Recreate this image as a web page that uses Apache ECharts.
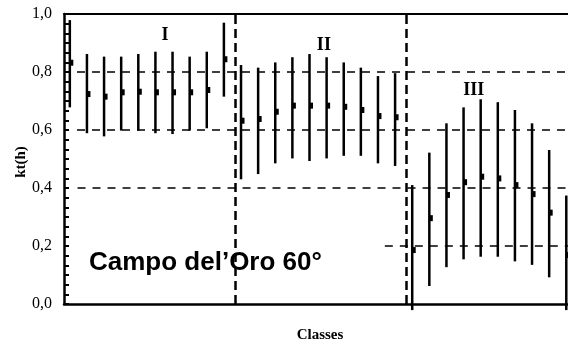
<!DOCTYPE html>
<html>
<head>
<meta charset="utf-8">
<script src="https://cdn.jsdelivr.net/npm/echarts@6/dist/echarts.min.js"></script>
<style>html,body{margin:0;padding:0;background:#fff}#c{width:568px;height:349px}</style>
</head>
<body>
<div id="c"></div>
<script>
// Class index (30 classes, 3 groups of 10)
const classIndex = [1,2,3,4,5,6,7,8,9,10,11,12,13,14,15,16,17,18,19,20,21,22,23,24,25,26,27,28,29,30];
// kt(h) mean, lower and upper values
const meanVals = [0.832,0.724,0.715,0.730,0.732,0.730,0.730,0.730,0.738,0.844,
                  0.632,0.638,0.663,0.684,0.684,0.684,0.680,0.669,0.648,0.644,
                  0.186,0.296,0.376,0.420,0.439,0.433,0.410,0.379,0.315,0.169];
const lowVals  = [0.678,0.589,0.578,0.598,0.598,0.589,0.586,0.598,0.606,0.715,
                  0.430,0.448,0.485,0.502,0.493,0.502,0.511,0.511,0.485,0.476,
                  -0.021,0.062,0.127,0.154,0.163,0.163,0.147,0.135,0.092,-0.021];
const highVals = [0.979,0.862,0.853,0.853,0.862,0.870,0.870,0.853,0.870,0.970,
                  0.824,0.815,0.833,0.851,0.862,0.851,0.833,0.815,0.786,0.796,
                  0.410,0.522,0.623,0.678,0.706,0.696,0.669,0.623,0.531,0.374];
// y-axis ticks
const yTicks = [0, 0.2, 0.4, 0.6, 0.8, 1.0];
// group boundaries and group labels
const groupBounds = [10.68, 20.63];
const groupNames = ['I', 'II', 'III'];
const groupLabelPos = [[6.56, 0.928], [15.84, 0.891], [24.6, 0.738]];
// reference dashed levels: [level, start class position]
const refLevels = [[0.8, 1.42], [0.6, 1.42], [0.4, 1.45], [0.2, 19.4]];
const xMin = 0.66, xMax = 30.1;

const chart = echarts.init(document.getElementById('c'), null, {renderer: 'canvas'});
const black = '#000';
const serif = 'Liberation Serif';

const markLineData = [];
groupBounds.forEach(b => markLineData.push({xAxis: b, lineStyle: {type: [9, 5], width: 2.5, color: black, opacity: 1}}));
refLevels.forEach(r => markLineData.push([
  {coord: [r[1], r[0]], lineStyle: {type: [8, 7], width: 1.5, color: black, opacity: 1}},
  {coord: [xMax, r[0]]}
]));

chart.setOption({
  animation: false,
  backgroundColor: '#fff',
  grid: {left: 64, top: 14, right: 0, bottom: 45},
  xAxis: [
    {type: 'value', min: xMin, max: xMax, position: 'bottom',
     axisLine: {show: true, onZero: false, lineStyle: {color: black, width: 2.5}},
     axisTick: {show: false}, axisLabel: {show: false}, splitLine: {show: false}},
    {type: 'value', min: xMin, max: xMax, position: 'top',
     axisLine: {show: true, onZero: false, lineStyle: {color: black, width: 2}},
     axisTick: {show: false}, axisLabel: {show: false}, splitLine: {show: false}}
  ],
  yAxis: {
    type: 'value', min: yTicks[0], max: yTicks[yTicks.length - 1], interval: 0.2,
    axisLine: {show: true, lineStyle: {color: black, width: 2.5}},
    axisTick: {show: true, inside: true, length: 5, lineStyle: {color: black, width: 2}},
    minorTick: {show: true, splitNumber: 6, length: 5, lineStyle: {color: black, width: 2}},
    splitLine: {show: false},
    axisLabel: {
      margin: 12, color: black, fontFamily: serif, fontSize: 16,
      formatter: v => v.toFixed(1).replace('.', ',')
    }
  },
  graphic: [
    {type: 'text', left: 89, top: 250, z: 10,
     style: {text: 'Campo del\u2019Oro 60°', font: 'bold 26px "Liberation Sans"', fill: black}},
    {type: 'text', x: 320, y: 335, z: 10,
     style: {text: 'Classes', font: 'bold 15px "Liberation Serif"', fill: black, align: 'center', verticalAlign: 'middle'}},
    {type: 'text', x: 21, y: 162, rotation: Math.PI / 2, z: 10,
     style: {text: 'kt(h)', font: 'bold 15px "Liberation Serif"', fill: black, align: 'center', verticalAlign: 'middle'}}
  ],
  series: [
    {
      type: 'custom', name: 'range', clip: false, z: 3,
      data: classIndex.map((c, i) => [c, lowVals[i], highVals[i]]),
      encode: {x: 0, y: [1, 2]},
      renderItem: (params, api) => {
        const p1 = api.coord([api.value(0), api.value(1)]);
        const p2 = api.coord([api.value(0), api.value(2)]);
        return {type: 'line', shape: {x1: p1[0], y1: p1[1], x2: p2[0], y2: p2[1]},
                style: {stroke: black, lineWidth: 2.5}};
      }
    },
    {
      type: 'scatter', name: 'mean', z: 4,
      data: classIndex.map((c, i) => [c, meanVals[i]]),
      symbol: 'rect', symbolSize: [4, 6], symbolOffset: [1.5, 0],
      itemStyle: {color: black, opacity: 1},
      emphasis: {disabled: true},
      markLine: {silent: true, symbol: 'none', label: {show: false}, z: 2, data: markLineData}
    },
    {
      type: 'scatter', name: 'groups', z: 5, symbolSize: 0,
      itemStyle: {color: black, opacity: 1},
      emphasis: {disabled: true},
      data: groupLabelPos.map((p, i) => ({value: p, name: groupNames[i]})),
      label: {show: true, position: 'inside', formatter: p => p.name,
              fontFamily: serif, fontWeight: 'bold', fontSize: 18, color: black,
              textBorderWidth: 0}
    }
  ]
});
</script>
</body>
</html>
